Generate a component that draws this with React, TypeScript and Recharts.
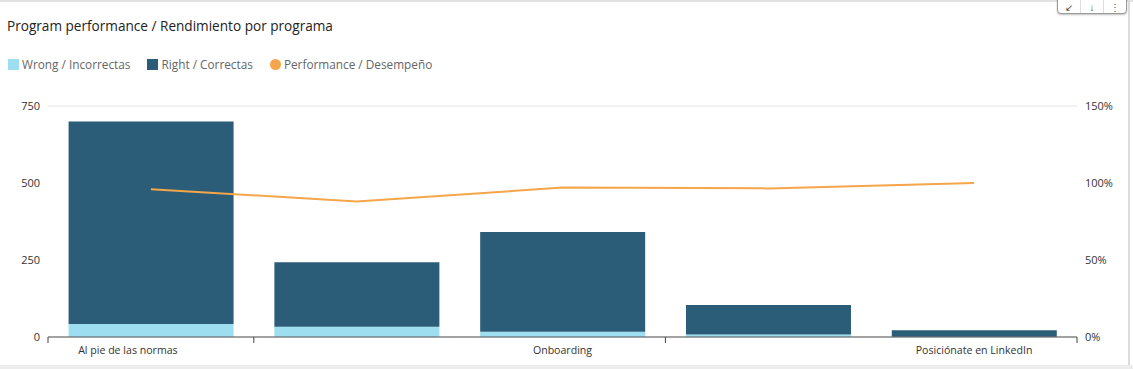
import React from "react";
import {
  ComposedChart,
  Bar,
  Line,
  XAxis,
  YAxis,
  CartesianGrid,
} from "recharts";

// programs (only every other label is shown in the original)
const programs = ["Al pie de las normas", "", "Onboarding", "", "Posiciónate en LinkedIn"];
const wrongAnswers = [42, 33, 17, 8, 1];
const rightAnswers = [658, 210, 324, 96, 21];
const performance = [96, 88, 97, 96.5, 100];

const countTicks = [0, 250, 500, 750];
const pctTicks = [0, 50, 100, 150];

const data = programs.map((name, i) => ({
  name,
  wrong: wrongAnswers[i],
  right: rightAnswers[i],
  perf: performance[i],
}));

const FONT = "'Open Sans', 'Noto Sans', sans-serif";
const C_WRONG = "#9ddff0";
const C_RIGHT = "#2b5d78";
const C_PERF = "#f5a54a";

const legendItems = [
  { label: "Wrong / Incorrectas", color: C_WRONG, shape: "square" },
  { label: "Right / Correctas", color: C_RIGHT, shape: "square" },
  { label: "Performance / Desempeño", color: C_PERF, shape: "circle" },
];

function ProgramTick(props: any) {
  const { x, y, payload, index } = props;
  const half = payload?.offset ?? 103;
  const label = payload?.value as string;
  if (!label) return null;
  return (
    <g>
      {index === 0 && (
        <line x1={x - half} x2={x - half} y1={y - 8} y2={y - 2} stroke="#444" />
      )}
      <line x1={x + half} x2={x + half} y1={y - 8} y2={y - 2} stroke="#444" />
      <text
        x={index === 0 ? x - 23 : x}
        y={y + 9}
        textAnchor="middle"
        fontSize={10.6}
        fill="#333"
        fontFamily={FONT}
      >
        {label}
      </text>
    </g>
  );
}

export default function App() {
  return (
    <div
      style={{
        position: "absolute",
        left: 0,
        top: 0,
        width: 1133,
        height: 369,
        background: "#fff",
        fontFamily: FONT,
        overflow: "hidden",
      }}
    >
      <div style={{ position: "absolute", left: 0, top: 0, width: 1133, height: 2, background: "#e2e2e2" }} />
      <div style={{ position: "absolute", left: 1128, top: 0, width: 2, height: 369, background: "#dcdcdc" }} />
      <div style={{ position: "absolute", left: 0, top: 365, width: 1133, height: 4, background: "#ececec" }} />

      {/* toolbar */}
      <div
        style={{
          position: "absolute",
          left: 1057,
          top: -6,
          width: 68,
          height: 18,
          border: "1px solid #999",
          borderRadius: 4,
          background: "#fff",
          boxShadow: "0 1px 2px rgba(0,0,0,0.25)",
          display: "flex",
          fontSize: 10,
          color: "#555",
        }}
      >
        {["↙", "↓", "⋮"].map((s, i) => (
          <div
            key={i}
            style={{
              flex: 1,
              textAlign: "center",
              paddingTop: 6,
              lineHeight: "12px",
              borderLeft: i ? "1px solid #ddd" : "none",
            }}
          >
            {s}
          </div>
        ))}
      </div>

      <div
        style={{
          position: "absolute",
          left: 7,
          top: 16,
          fontSize: 13.6,
          color: "#222",
          whiteSpace: "nowrap",
        }}
      >
        Program performance / Rendimiento por programa
      </div>

      <div
        style={{
          position: "absolute",
          left: 8,
          top: 56,
          display: "flex",
          fontSize: 11.8,
          color: "#666",
          whiteSpace: "nowrap",
        }}
      >
        {legendItems.map((it) => (
          <div key={it.label} style={{ display: "flex", alignItems: "center", marginRight: 17 }}>
            <span
              style={{
                display: "inline-block",
                width: 11,
                height: 11,
                background: it.color,
                borderRadius: it.shape === "circle" ? "50%" : 0,
                marginRight: 3,
              }}
            />
            <span>{it.label}</span>
          </div>
        ))}
      </div>

      <div style={{ position: "absolute", left: 0, top: 0 }}>
        <ComposedChart
          width={1133}
          height={369}
          data={data}
          margin={{ top: 106, right: 0, left: 0, bottom: 2 }}
          barCategoryGap="10%"
        >
          <CartesianGrid vertical={false} stroke="#e3e3e3" />
          <XAxis
            dataKey="name"
            height={30}
            axisLine={{ stroke: "#555" }}
            tickLine={false}
            interval={0}
            tick={<ProgramTick />}
          />
          <YAxis
            yAxisId="count"
            width={48}
            domain={[0, 750]}
            ticks={countTicks}
            axisLine={false}
            tickLine={false}
            tick={{ fontSize: 11, fill: "#333", fontFamily: FONT }}
          />
          <YAxis
            yAxisId="pct"
            orientation="right"
            width={56}
            domain={[0, 150]}
            ticks={pctTicks}
            axisLine={false}
            tickLine={false}
            tickFormatter={(v) => `${v}%`}
            tick={{ fontSize: 11, fill: "#333", fontFamily: FONT, textAnchor: "start" }}
          />
          <Bar yAxisId="count" dataKey="wrong" stackId="a" fill={C_WRONG} isAnimationActive={false} />
          <Bar yAxisId="count" dataKey="right" stackId="a" fill={C_RIGHT} isAnimationActive={false} />
          <Line
            yAxisId="pct"
            dataKey="perf"
            type="linear"
            stroke={C_PERF}
            strokeWidth={2}
            dot={false}
            isAnimationActive={false}
          />
        </ComposedChart>
      </div>
    </div>
  );
}
